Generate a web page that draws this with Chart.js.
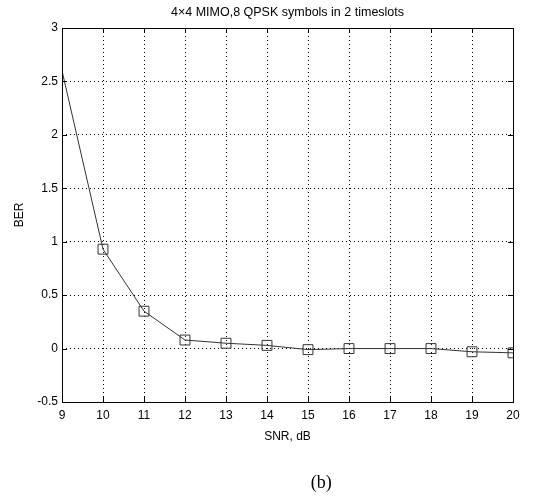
<!DOCTYPE html>
<html>
<head>
<meta charset="utf-8">
<script src="https://cdn.jsdelivr.net/npm/chart.js@4/dist/chart.umd.min.js"></script>
<style>
  html, body { margin: 0; padding: 0; background: #fff; }
  #wrap { width: 554px; height: 501px; }
</style>
</head>
<body>
<div id="wrap"><canvas id="chart"></canvas></div>
<script>
// chart data
var snrValues = [9, 10, 11, 12, 13, 14, 15, 16, 17, 18, 19, 20];
var berValues = [2.6, 0.93, 0.35, 0.08, 0.05, 0.03, -0.01, 0.0, 0.0, 0.0, -0.03, -0.04];
// first point has no marker in the figure
var markerRadius = [0, 7, 7, 7, 7, 7, 7, 7, 7, 7, 7, 7];
var yTicks = [-0.5, 0, 0.5, 1, 1.5, 2, 2.5, 3];

var chartTitle = '4\u00d74 MIMO,8 QPSK symbols in 2 timeslots';
var xTitle = 'SNR, dB';
var yTitle = 'BER';
var caption = '(b)';

var fontFamily = '"Liberation Sans", Arial, sans-serif';

// MATLAB style box around the plot with inward tick marks
var frameBox = {
    id: 'frameBox',
    afterDraw: function(chart) {
        var ctx = chart.ctx;
        var area = chart.chartArea;
        var xs = chart.scales.x;
        var ys = chart.scales.y;
        var len = 5;
        ctx.save();
        ctx.strokeStyle = '#000';
        ctx.lineWidth = 1;
        ctx.setLineDash([]);
        ctx.strokeRect(area.left + 0.5, area.top + 0.5, area.right - area.left, area.bottom - area.top);
        ctx.beginPath();
        snrValues.forEach(function(v) {
            var px = Math.round(xs.getPixelForValue(v)) + 0.5;
            ctx.moveTo(px, area.bottom);
            ctx.lineTo(px, area.bottom - len);
            ctx.moveTo(px, area.top);
            ctx.lineTo(px, area.top + len);
        });
        yTicks.forEach(function(v) {
            var py = Math.round(ys.getPixelForValue(v)) + 0.5;
            ctx.moveTo(area.left, py);
            ctx.lineTo(area.left + len, py);
            ctx.moveTo(area.right, py);
            ctx.lineTo(area.right - len, py);
        });
        ctx.stroke();
        // figure caption under the plot
        ctx.fillStyle = '#000';
        ctx.font = '18px "Liberation Serif", "Times New Roman", serif';
        ctx.textAlign = 'center';
        ctx.textBaseline = 'middle';
        ctx.fillText(caption, chart.width * 0.58, chart.height - 18);
        ctx.restore();
    }
};

var chartConfig = {
    type: 'line',
    data: {
        datasets: [{
            label: yTitle,
            data: snrValues.map(function(x, i) { return { x: x, y: berValues[i] }; }),
            borderColor: '#333',
            borderWidth: 1,
            backgroundColor: 'rgba(0,0,0,0)',
            pointStyle: 'rect',
            pointRadius: markerRadius,
            pointBorderColor: '#333',
            pointBorderWidth: 1,
            pointBackgroundColor: 'rgba(0,0,0,0)',
            tension: 0,
            fill: false
        }]
    },
    options: {
        responsive: true,
        maintainAspectRatio: false,
        animation: false,
        layout: {
            padding: { left: 0, right: 41, top: 0, bottom: 50 }
        },
        plugins: {
            legend: { display: false },
            tooltip: { enabled: false },
            title: {
                display: true,
                text: chartTitle,
                fullSize: false,
                color: '#000',
                font: { family: fontFamily, size: 12.5, weight: 'normal' },
                padding: { top: 5, bottom: 8 }
            }
        },
        scales: {
            x: {
                type: 'linear',
                min: 9,
                max: 20,
                afterFit: function(scale) { scale.height = 49; },
                ticks: {
                    stepSize: 1,
                    color: '#000',
                    padding: 6,
                    font: { family: fontFamily, size: 12 }
                },
                grid: { color: '#000', drawTicks: false, lineWidth: 1 },
                border: { display: false, dash: [1, 3] },
                title: {
                    display: true,
                    text: xTitle,
                    color: '#000',
                    font: { family: fontFamily, size: 12 },
                    padding: { top: 2, bottom: 7 }
                }
            },
            y: {
                type: 'linear',
                min: -0.5,
                max: 3,
                afterFit: function(scale) { scale.width = 62; },
                ticks: {
                    stepSize: 0.5,
                    color: '#000',
                    padding: 4,
                    font: { family: fontFamily, size: 12 },
                    callback: function(value) { return String(value); }
                },
                grid: { color: '#000', drawTicks: false, lineWidth: 1 },
                border: { display: false, dash: [1, 3] },
                title: {
                    display: true,
                    text: yTitle,
                    color: '#000',
                    font: { family: fontFamily, size: 12 },
                    padding: { top: 12, bottom: 0 }
                }
            }
        }
    },
    plugins: [frameBox]
};

new Chart(document.getElementById('chart'), chartConfig);
</script>
</body>
</html>
